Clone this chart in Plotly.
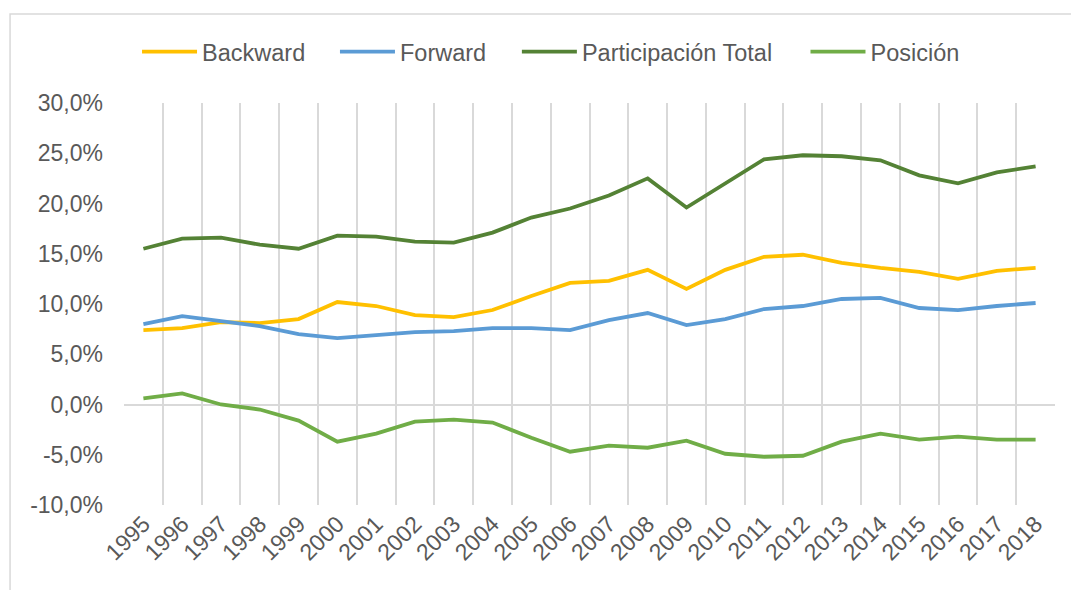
import plotly.graph_objects as go

years = [str(y) for y in range(1995, 2019)]
backward = [7.4, 7.6, 8.2, 8.1, 8.5, 10.2, 9.8, 8.9, 8.7, 9.4, 10.8, 12.1,
            12.3, 13.4, 11.5, 13.4, 14.7, 14.9, 14.1, 13.6, 13.2, 12.5, 13.3, 13.6]
forward = [8.0, 8.8, 8.3, 7.8, 7.0, 6.6, 6.9, 7.2, 7.3, 7.6, 7.6, 7.4,
           8.4, 9.1, 7.9, 8.5, 9.5, 9.8, 10.5, 10.6, 9.6, 9.4, 9.8, 10.1]
total = [15.5, 16.5, 16.6, 15.9, 15.5, 16.8, 16.7, 16.2, 16.1, 17.1, 18.6, 19.5,
         20.8, 22.5, 19.6, 22.0, 24.4, 24.8, 24.7, 24.3, 22.8, 22.0, 23.1, 23.7]
posicion = [0.6, 1.1, 0.0, -0.5, -1.6, -3.7, -2.9, -1.7, -1.5, -1.8, -3.3, -4.7,
            -4.1, -4.3, -3.6, -4.9, -5.2, -5.1, -3.7, -2.9, -3.5, -3.2, -3.5, -3.5]

y_tickvals = [-10, -5, 0, 5, 10, 15, 20, 25, 30]
y_ticktext = ["-10,0%", "-5,0%", "0,0%", "5,0%", "10,0%", "15,0%", "20,0%", "25,0%", "30,0%"]

series = [
    ("Backward", backward, "#FFC000"),
    ("Forward", forward, "#5B9BD5"),
    ("Participación Total", total, "#548235"),
    ("Posición", posicion, "#70AD47"),
]
legend_ids = ["legend", "legend2", "legend3", "legend4"]
legend_x = [0.0140, 0.2266, 0.4220, 0.7320]

font = dict(family="Liberation Sans, Arial, sans-serif", size=23, color="#595959")
legend_font = dict(family="Liberation Sans, Arial, sans-serif", size=23.5, color="#595959")

fig = go.Figure()
for (name, vals, color), lid in zip(series, legend_ids):
    fig.add_trace(go.Scatter(x=years, y=vals, name=name, mode="lines",
                             line=dict(color=color, width=3.8), legend=lid))

legend_layout = {}
for lid, lx in zip(legend_ids, legend_x):
    legend_layout[lid] = dict(orientation="h", x=lx, xanchor="left", y=1.127,
                              yanchor="middle", font=legend_font, bgcolor="rgba(0,0,0,0)",
                              itemwidth=55)

fig.update_layout(
    width=1071, height=590,
    margin=dict(l=124, r=16, t=103, b=85, autoexpand=False),
    paper_bgcolor="white", plot_bgcolor="white",
    font=font,
    showlegend=True,
    xaxis=dict(type="category", tickson="boundaries", showgrid=True, range=[-0.5, 23.5],
               gridcolor="#d9d9d9", gridwidth=1.8, ticks="", tickangle=-45,
               showline=False, zeroline=False, tickfont=font, automargin=False),
    yaxis=dict(range=[-10, 30], tickvals=y_tickvals, ticktext=y_ticktext,
               showgrid=False, zeroline=True, zerolinecolor="#d9d9d9", zerolinewidth=1.8,
               showline=False, ticks="", tickfont=font, ticklabelstandoff=20,
               automargin=False),
    shapes=[dict(type="rect", xref="paper", yref="paper",
                 x0=-0.1224, x1=1.2, y0=-0.5, y1=1.2214,
                 line=dict(color="#d9d9d9", width=1.5), layer="below")],
    **legend_layout,
)

fig.write_html("out.html", config={"displayModeBar": False},
               post_script="document.body.style.margin='0';")
